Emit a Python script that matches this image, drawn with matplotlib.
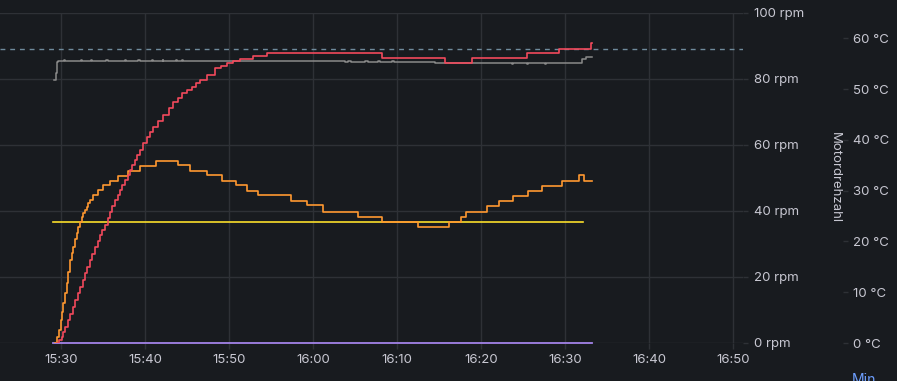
import matplotlib
matplotlib.use("Agg")
import matplotlib.pyplot as plt
import matplotlib.dates as mdates
import pandas as pd

# ---------------- data (minutes after 15:30) ----------------
red_t = [-0.51, -0.2, 0.08, 0.28, 0.48, 0.78, 1.07, 1.37, 1.67, 1.97, 2.26, 2.56, 2.86, 3.15,
         3.45, 3.75, 4.05, 4.35, 4.64, 4.94, 5.24, 5.54, 5.83, 6.13, 6.43, 6.73, 7.02, 7.32,
         7.62, 7.92, 8.21, 8.51, 8.81, 9.10, 9.40, 9.80, 10.2, 10.6, 10.99, 11.6, 12.18, 12.8,
         13.37, 13.9, 14.37, 15.0, 15.56, 16.05, 16.55, 17.35, 18.33, 19.0, 19.73,
         20.5, 21.31, 22.9, 24.49, 38.21, 45.71, 48.93, 55.48, 59.29, 63.1, 63.25]
red_v = [0.0, 0.6, 1.2, 2.2, 3.2, 4.5, 5.8, 7.1, 8.5, 9.8, 11.1, 12.4, 13.7, 15.0,
         16.3, 17.6, 18.9, 20.1, 21.3, 22.3, 23.3, 24.6, 25.9, 27.0, 28.2, 29.1, 30.1, 31.1,
         32.1, 33.1, 34.1, 35.0, 36.0, 37.0, 38.0, 39.3, 40.5, 41.6, 42.6, 43.8, 44.9, 46.2,
         47.5, 48.3, 49.2, 49.9, 50.5, 51.2, 51.8, 52.8, 54.1, 54.6, 55.1,
         55.5, 55.9, 56.5, 57.1, 56.1, 55.1, 56.1, 57.1, 58.0, 59.1, 59.1]

orange_t = [-0.71, -0.45, -0.25, -0.05, 0.10, 0.27, 0.45, 0.68, 0.85, 1.07, 1.25, 1.46,
            1.65, 1.87, 2.05, 2.26, 2.45, 2.65, 2.85, 3.06, 3.25, 3.45, 3.85,
            4.44, 5.04, 5.83, 6.82, 8.01, 9.40, 11.31, 13.93, 15.36, 17.38, 19.17,
            20.83, 22.11, 23.42, 27.35, 29.25, 31.23, 35.39, 38.18, 42.54, 46.19,
            47.58, 48.18, 50.68, 52.18, 53.85, 55.56, 57.30, 59.61, 61.70, 62.30, 63.25]
orange_v = [0.0, 1.2, 2.6, 4.5, 6.2, 7.9, 9.8, 11.8, 14.0, 16.3, 17.7, 19.0,
            20.4, 21.7, 22.8, 23.9, 24.8, 25.6, 26.2, 26.8, 27.5, 28.2, 29.1,
            30.1, 31.1, 32.0, 32.9, 33.9, 34.9, 35.9, 35.1, 33.9, 33.0, 32.0,
            31.1, 30.0, 29.2, 28.0, 27.2, 25.9, 24.9, 23.9, 22.9, 23.9,
            24.9, 25.9, 27.0, 28.0, 29.0, 30.0, 31.0, 32.0, 33.0, 32.0, 32.0]

gray_t = [-0.80, -0.63, -0.51, -0.32, 0.36, 0.42, 2.38, 2.45, 3.57, 3.64, 5.36, 5.60,
          7.62, 7.70, 9.17, 9.40, 10.83, 10.90, 12.14, 12.20, 13.69, 13.76, 14.40, 14.47,
          33.8, 34.2, 34.5, 36.2, 36.5, 37.7, 38.0, 39.4, 39.6, 44.5, 47.5, 53.7, 53.8,
          55.5, 55.6, 57.6, 57.7, 62.0, 62.5, 63.0, 63.25]
gray_v = [79.7, 81.7, 85.2, 85.5, 85.8, 85.5, 85.8, 85.5, 85.8, 85.5, 85.8, 85.5,
          85.8, 85.5, 85.8, 85.5, 85.8, 85.5, 85.8, 85.5, 85.8, 85.5, 85.8, 85.5,
          85.2, 85.5, 85.2, 85.5, 85.2, 85.5, 85.2, 85.5, 85.2, 84.9, 84.9, 84.6, 84.9,
          84.6, 84.9, 84.6, 84.9, 86.0, 86.6, 86.8, 86.8]

yellow_t = [-0.92, 62.1]
yellow_v = [23.9, 23.9]

purple_t = [-0.92, 63.25]
purple_v = [0.0, 0.0]

threshold_temp = 58.0

rpm_ticks = [0, 20, 40, 60, 80, 100]
temp_ticks = [0, 10, 20, 30, 40, 50, 60]
time_tick_min = [0, 10, 20, 30, 40, 50, 60, 70, 80]

# ---------------- helpers ----------------
base = pd.Timestamp("2024-01-01 15:30:00")


def tt(mins):
    return [base + pd.Timedelta(minutes=m) for m in mins]


PX = 0.72  # points per pixel at 100 dpi
BG = "#181b1f"
GRID = "#2e3136"
TXT = "#c8c8d2"
FONT = ["Inter", "DejaVu Sans"]
plt.rcParams["font.family"] = FONT

W, H = 897, 381
fig = plt.figure(figsize=(W / 100, H / 100), dpi=100, facecolor=BG)
left, right, top, bottom = 0, 743, 13, 343
ax = fig.add_axes([left / W, 1 - bottom / H, (right - left) / W, (bottom - top) / H])
ax.set_facecolor(BG)
ax2 = ax.twinx()

for a in (ax, ax2):
    for s in a.spines.values():
        s.set_visible(False)

# rpm axis (on the right, with grid)
ax.set_ylim(0, 100)
ax.yaxis.tick_right()
ax.set_yticks(rpm_ticks)
ax.set_yticklabels([f"{v} rpm" for v in rpm_ticks])
ax.tick_params(axis="y", which="both", length=5 * PX, width=1, color=GRID,
               labelcolor=TXT, labelsize=9.5, pad=6 * PX, left=False, right=True,
               labelleft=False, labelright=True)

# time axis
xmin = base - pd.Timedelta(minutes=61 / 8.4)
xmax = base + pd.Timedelta(minutes=(right - 61) / 8.4)
ax.set_xlim(xmin, xmax)
ax.set_xticks(tt(time_tick_min))
ax.xaxis.set_major_formatter(mdates.DateFormatter("%H:%M"))
ax.tick_params(axis="x", length=6 * PX, width=1, color=GRID, labelcolor=TXT,
               labelsize=9.5, pad=5 * PX)
ax.grid(True, color=GRID, linewidth=1)

# temperature axis (outer right)
ax2.set_ylim(0, 65)
ax2.set_yticks(temp_ticks)
ax2.set_yticklabels([f"{v} °C" for v in temp_ticks])
ax2.spines["right"].set_position(("outward", (843 - right) * PX))
ax2.tick_params(axis="y", length=5 * PX, width=1, color=GRID, labelcolor=TXT,
                labelsize=9.5, pad=5 * PX)
ax2.set_xlim(xmin, xmax)

# lines
ax2.axhline(threshold_temp, color="#6f8b9c", linewidth=1, linestyle=(0, (3.5, 3.5)), zorder=1)
ax.plot(tt(gray_t), gray_v, color="#8a8a8a", linewidth=1.1, drawstyle="steps-post", zorder=3)
ax2.plot(tt(yellow_t), yellow_v, color="#fade2a", linewidth=1.2, zorder=3)
ax2.plot(tt(orange_t), orange_v, color="#ff9830", linewidth=1.2, drawstyle="steps-post", zorder=4)
ax2.plot(tt(red_t), red_v, color="#f2495c", linewidth=1.2, drawstyle="steps-post", zorder=5)
ax.plot(tt(purple_t), purple_v, color="#a383e8", linewidth=1.3, zorder=6, clip_on=False)

fig.text(835 / W, 1 - 178 / H, "Motordrehzahl", rotation=270, color=TXT,
         fontsize=9.5, ha="center", va="center")
fig.text(852 / W, -3 / H, "Min", color="#6e9fff", fontsize=10, ha="left", va="baseline")

fig.savefig("out.png", dpi=100, facecolor=BG)
